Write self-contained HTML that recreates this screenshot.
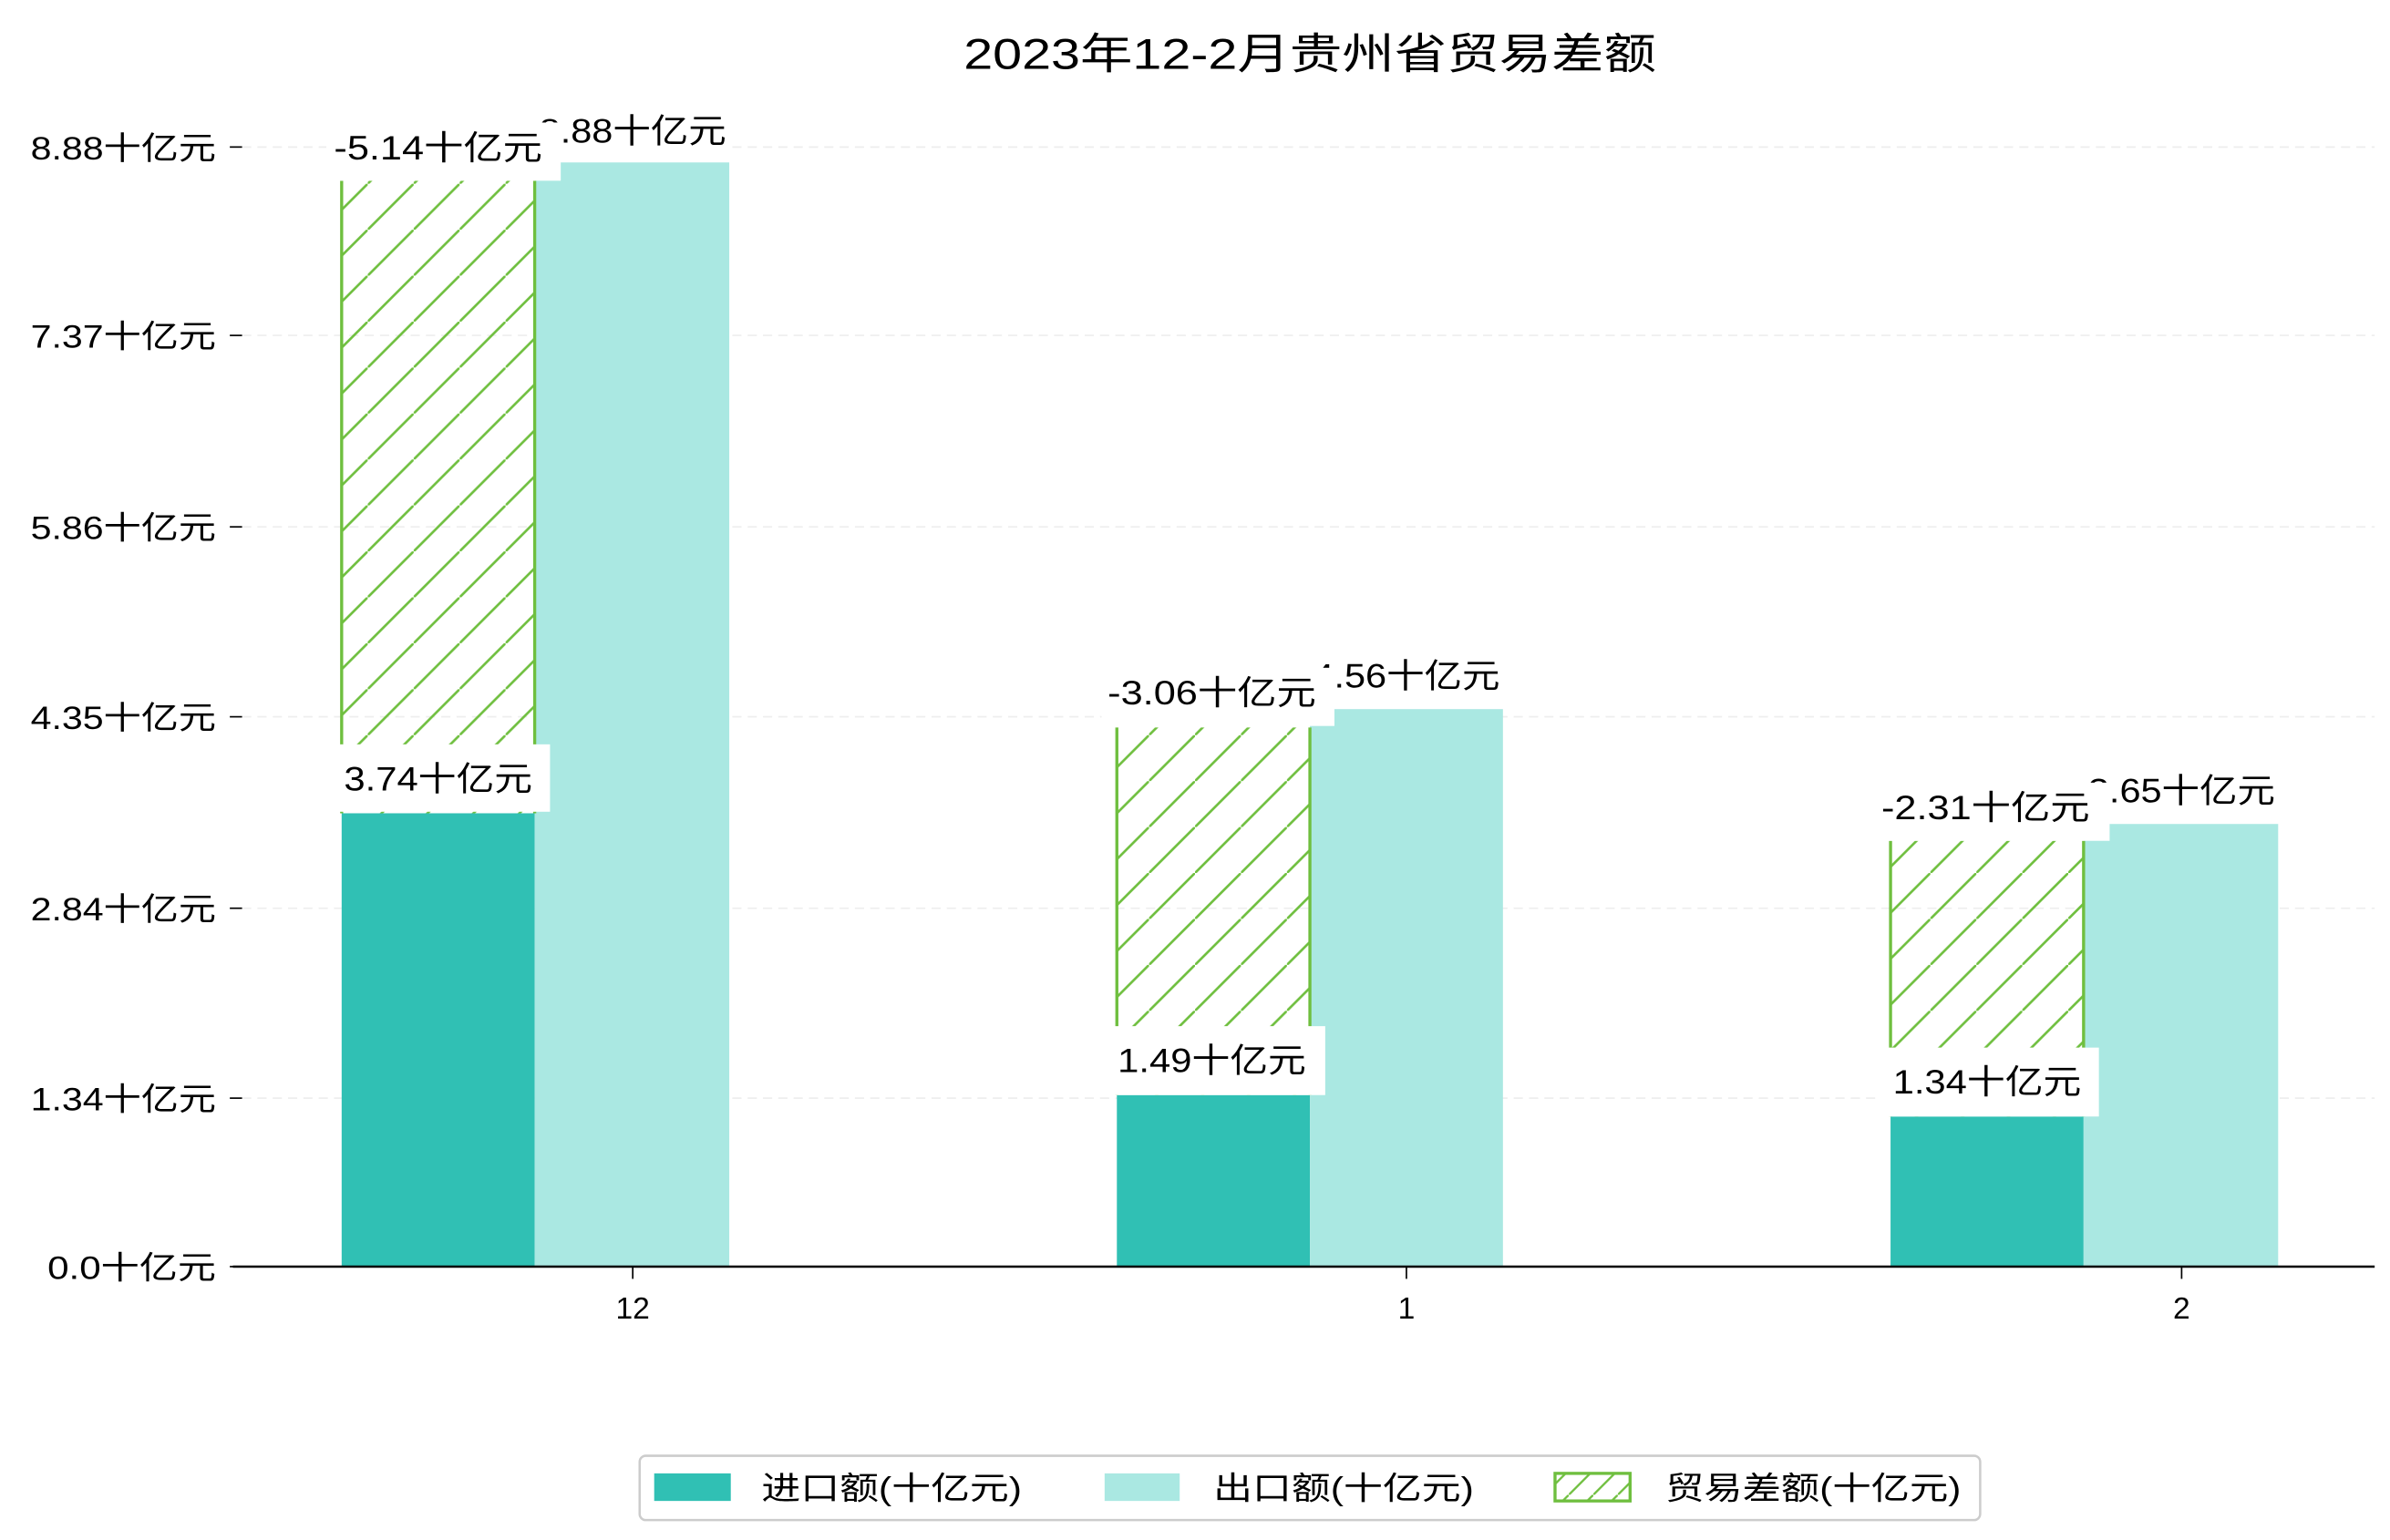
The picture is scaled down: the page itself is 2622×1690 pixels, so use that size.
<!DOCTYPE html>
<html><head><meta charset="utf-8"><style>
html,body{margin:0;padding:0;background:#fff;}
svg{display:block;}
text{font-family:"Liberation Sans","Noto Sans CJK SC",sans-serif;fill:#000;}
</style></head><body>
<svg width="2622" height="1690" viewBox="0 0 1560 1005.5" xmlns="http://www.w3.org/2000/svg">
<defs>
<pattern id="h" patternUnits="userSpaceOnUse" width="30" height="30">
<line x1="-5" y1="35" x2="35" y2="-5" stroke="#6fbf3f" stroke-width="1.6"/>
</pattern>
<pattern id="h2" patternUnits="userSpaceOnUse" width="16" height="16">
<line x1="-4" y1="20" x2="20" y2="-4" stroke="#6fbf3f" stroke-width="1.4"/>
</pattern>
</defs>
<text x="855" y="45" font-size="28" text-anchor="middle" textLength="452" lengthAdjust="spacingAndGlyphs">2023年12-2月贵州省贸易差额</text>
<g stroke="#eee" stroke-width="1" stroke-dasharray="6,4">
<line x1="158" y1="96" x2="1550" y2="96"/>
<line x1="158" y1="219" x2="1550" y2="219"/>
<line x1="158" y1="344" x2="1550" y2="344"/>
<line x1="158" y1="468" x2="1550" y2="468"/>
<line x1="158" y1="593" x2="1550" y2="593"/>
<line x1="158" y1="717" x2="1550" y2="717"/>
</g>
<g stroke="#000" stroke-width="1">
<line x1="150" y1="96" x2="158" y2="96"/><line x1="150" y1="219" x2="158" y2="219"/>
<line x1="150" y1="344" x2="158" y2="344"/><line x1="150" y1="468" x2="158" y2="468"/>
<line x1="150" y1="593" x2="158" y2="593"/><line x1="150" y1="717" x2="158" y2="717"/>
<line x1="150" y1="827" x2="158" y2="827"/>
<line x1="413" y1="827" x2="413" y2="835"/><line x1="918" y1="827" x2="918" y2="835"/><line x1="1424" y1="827" x2="1424" y2="835"/>
</g>
<g font-size="21" text-anchor="end" lengthAdjust="spacingAndGlyphs">
<text x="141" y="104" textLength="121" lengthAdjust="spacingAndGlyphs">8.88十亿元</text>
<text x="141" y="227" textLength="121" lengthAdjust="spacingAndGlyphs">7.37十亿元</text>
<text x="141" y="352" textLength="121" lengthAdjust="spacingAndGlyphs">5.86十亿元</text>
<text x="141" y="476" textLength="121" lengthAdjust="spacingAndGlyphs">4.35十亿元</text>
<text x="141" y="601" textLength="121" lengthAdjust="spacingAndGlyphs">2.84十亿元</text>
<text x="141" y="725" textLength="121" lengthAdjust="spacingAndGlyphs">1.34十亿元</text>
<text x="141" y="835" textLength="110" lengthAdjust="spacingAndGlyphs">0.0十亿元</text>
</g>
<g font-size="20" text-anchor="middle">
<text x="413" y="861">12</text><text x="918" y="861">1</text><text x="1424" y="861">2</text>
</g>
<!-- bars -->
<rect x="223" y="531" width="126" height="296" fill="#30c0b4"/>
<rect x="349" y="106" width="127" height="721" fill="#aae8e2"/>
<rect x="223" y="118" width="126" height="413" fill="url(#h)"/>
<line x1="223" y1="118" x2="223" y2="531" stroke="#6fbf3f" stroke-width="2"/>
<line x1="349" y1="118" x2="349" y2="531" stroke="#6fbf3f" stroke-width="2"/>

<rect x="729" y="715" width="126" height="112" fill="#30c0b4"/>
<rect x="855" y="463" width="126" height="364" fill="#aae8e2"/>
<rect x="729" y="475" width="126" height="240" fill="url(#h)"/>
<line x1="729" y1="475" x2="729" y2="715" stroke="#6fbf3f" stroke-width="2"/>
<line x1="855" y1="475" x2="855" y2="715" stroke="#6fbf3f" stroke-width="2"/>

<rect x="1234" y="729" width="126" height="98" fill="#30c0b4"/>
<rect x="1360" y="538" width="127" height="289" fill="#aae8e2"/>
<rect x="1234" y="549" width="126" height="180" fill="url(#h)"/>
<line x1="1234" y1="549" x2="1234" y2="729" stroke="#6fbf3f" stroke-width="2"/>
<line x1="1360" y1="549" x2="1360" y2="729" stroke="#6fbf3f" stroke-width="2"/>

<line x1="152" y1="827" x2="1550" y2="827" stroke="#000" stroke-width="1.5"/>

<!-- labels -->
<g font-size="22" text-anchor="middle">
<rect x="356" y="69" width="122" height="37" fill="#fff"/>
<text x="413" y="93" textLength="122" lengthAdjust="spacingAndGlyphs">8.88十亿元</text>
<rect x="213" y="80" width="153" height="38" fill="#fff"/>
<text x="286" y="104" textLength="136" lengthAdjust="spacingAndGlyphs">-5.14十亿元</text>
<rect x="213" y="486" width="146" height="44" fill="#fff"/>
<text x="286" y="516" textLength="123" lengthAdjust="spacingAndGlyphs">3.74十亿元</text>

<rect x="862" y="425" width="122" height="37" fill="#fff"/>
<text x="918" y="449" textLength="122" lengthAdjust="spacingAndGlyphs">4.56十亿元</text>
<rect x="719" y="436" width="152" height="38" fill="#fff"/>
<text x="791" y="460" textLength="136" lengthAdjust="spacingAndGlyphs">-3.06十亿元</text>
<rect x="719" y="670" width="146" height="45" fill="#fff"/>
<text x="791" y="700" textLength="123" lengthAdjust="spacingAndGlyphs">1.49十亿元</text>

<rect x="1367" y="500" width="122" height="37" fill="#fff"/>
<text x="1424" y="524" textLength="122" lengthAdjust="spacingAndGlyphs">3.65十亿元</text>
<rect x="1224" y="511" width="153" height="38" fill="#fff"/>
<text x="1296" y="535" textLength="136" lengthAdjust="spacingAndGlyphs">-2.31十亿元</text>
<rect x="1224" y="684" width="146" height="45" fill="#fff"/>
<text x="1297" y="714" textLength="123" lengthAdjust="spacingAndGlyphs">1.34十亿元</text>
</g>
<!-- legend -->
<rect x="417.5" y="950.5" width="875" height="42" rx="4" fill="#fff" stroke="#ccc" stroke-width="1.5"/>
<rect x="427" y="962" width="50" height="18" fill="#30c0b4"/>
<rect x="721" y="962" width="49" height="18" fill="#aae8e2"/>
<rect x="1015" y="962" width="49" height="18" fill="url(#h2)" stroke="#6fbf3f" stroke-width="2"/>
<g font-size="21">
<text x="497" y="979" textLength="170" lengthAdjust="spacingAndGlyphs">进口额(十亿元)</text>
<text x="792" y="979" textLength="170" lengthAdjust="spacingAndGlyphs">出口额(十亿元)</text>
<text x="1087" y="979" textLength="193" lengthAdjust="spacingAndGlyphs">贸易差额(十亿元)</text>
</g>
</svg>
</body></html>
